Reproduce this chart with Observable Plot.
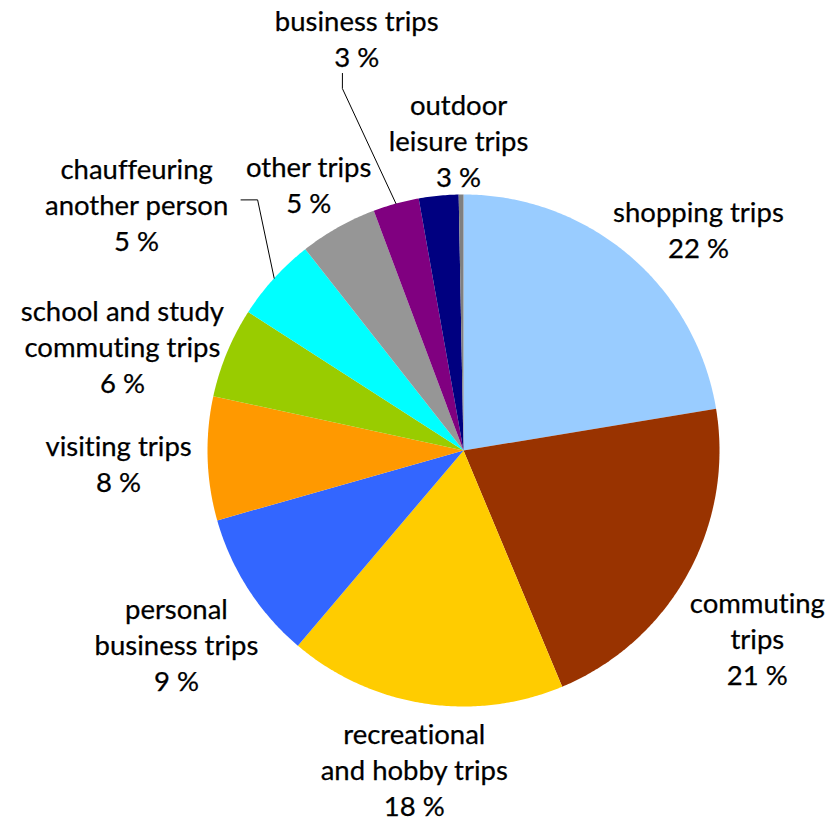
<!DOCTYPE html>
<html><head><meta charset="utf-8">
<script src="https://cdn.jsdelivr.net/npm/d3@7"></script>
<script src="https://cdn.jsdelivr.net/npm/@observablehq/plot@0.6"></script>
<style>body{margin:0;background:#fff}#chart svg{display:block;font-variant-ligatures:none;font-feature-settings:"liga" 0,"clig" 0}</style>
</head><body><div id="chart"></div>
<script>
// ---- data ----
const categories = ["shopping trips","commuting trips","recreational and hobby trips","personal business trips","visiting trips","school and study commuting trips","chauffeuring another person","other trips","business trips","outdoor leisure trips","unspecified"];
const shares = [22.4, 21.3, 17.5, 9.4, 7.8, 5.7, 5.3, 4.9, 2.9, 2.5, 0.3];
const labelLines = [["shopping trips"],["commuting","trips"],["recreational","and hobby trips"],["personal","business trips"],["visiting trips"],["school and study","commuting trips"],["chauffeuring","another person"],["other trips"],["business trips"],["outdoor","leisure trips"], null];
const colors = ["#99CCFF","#993300","#FFCC00","#3366FF","#FF9900","#99CC00","#00FFFF","#969696","#800080","#000080","#808080"];

// ---- layout (polar: angle in degrees clockwise from top, radius in pie radii) ----
const labelPolar = [[46.6,1.263],[122.5,1.361],[188.8,1.257],[236.1,1.351],[268.0,1.348],[287.1,1.394],[307.1,1.601],[329.9,1.206],[345.5,1.666],[359.1,1.215],null];
const leaderPolar = {6: [[318.4,1.309],[320.6,1.267]], 8: [[342.2,1.547],[341.5,1.491]]};

const rad = a => a * Math.PI / 180;
const polar = (a, r) => ({x: r * Math.sin(rad(a)), y: r * Math.cos(rad(a))});

const total = d3.sum(shares);
let acc = 0;
const slices = categories.map((name, i) => {
  const a0 = acc / total * 360; acc += shares[i];
  const a1 = acc / total * 360;
  return {name, i, a0, a1, mid: (a0 + a1) / 2, share: shares[i]};
});

const slicePts = [];
for (const s of slices) {
  slicePts.push({name: s.name, x: 0, y: 0});
  const n = Math.max(2, Math.ceil((s.a1 - s.a0) / 0.5));
  for (let k = 0; k <= n; k++) {
    const p = polar(s.a0 + (s.a1 - s.a0) * k / n, 1);
    slicePts.push({name: s.name, ...p});
  }
  slicePts.push({name: s.name, x: 0, y: 0});
}

const labels = slices.filter(s => labelLines[s.i]).map(s => {
  const [a, r] = labelPolar[s.i];
  return {...polar(a, r), text: labelLines[s.i].join("\n") + "\n" + Math.round(s.share) + " %"};
});

const leaders = [];
for (const key of Object.keys(leaderPolar)) {
  const s = slices[+key];
  for (const [a, r] of leaderPolar[key]) leaders.push({name: s.name, ...polar(a, r)});
  leaders.push({name: s.name, ...polar(s.mid, 1)});
}

const R = 256, cx = 463, cy = 450, W = 838, H = 822;
const chart = Plot.plot({
  width: W, height: H, margin: 0,
  x: {domain: [-cx / R, (W - cx) / R], axis: null},
  y: {domain: [-(H - cy) / R, cy / R], axis: null},
  color: {domain: categories, range: colors},
  style: {fontFamily: "Lato, 'Open Sans', sans-serif", background: "#fff"},
  marks: [
    Plot.line(slicePts, {x: "x", y: "y", z: "name", fill: "name", stroke: "none", curve: "linear"}),
    Plot.line(leaders, {x: "x", y: "y", z: "name", stroke: "black", strokeWidth: 1}),
    Plot.text(labels, {x: "x", y: "y", text: "text", fontSize: 27.5, lineHeight: 1.31, lineAnchor: "middle", textAnchor: "middle", fill: "#000", stroke: "#000", strokeWidth: 0.25})
  ]
});
document.getElementById("chart").append(chart);
</script>
</body></html>
